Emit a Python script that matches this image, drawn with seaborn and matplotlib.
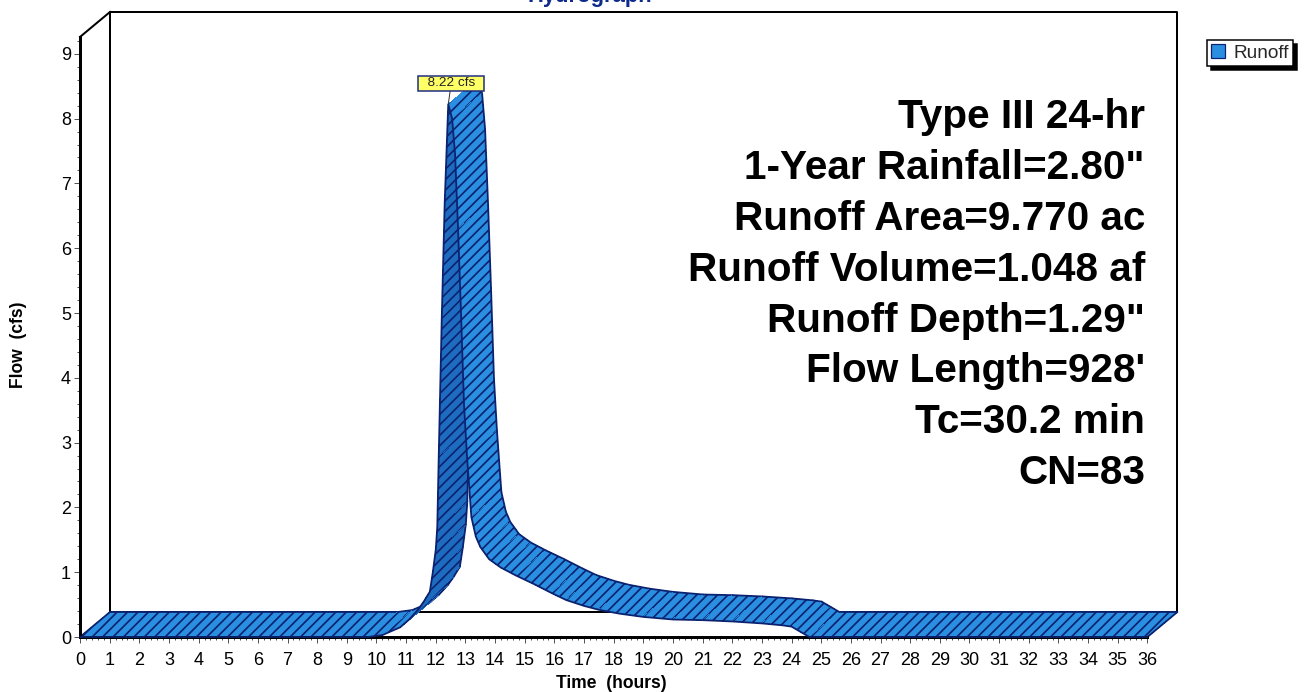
import numpy as np
import pandas as pd
import matplotlib
matplotlib.use("Agg")
import matplotlib.pyplot as plt
import seaborn as sns
from matplotlib.patches import Patch
from matplotlib.ticker import MultipleLocator

# ---------------- data ----------------
time_hr = [0.0, 9.7, 10.2, 10.8, 11.1, 11.4, 11.6, 11.8, 11.9, 12.0, 12.05, 12.1,
           12.2, 12.3, 12.42, 12.55, 12.65, 12.75, 12.85, 12.95, 13.05, 13.2,
           13.35, 13.5, 13.8, 14.2, 14.7, 15.3, 15.9, 16.4, 17.0, 17.5, 18.2,
           19.0, 20.0, 21.0, 22.0, 23.0, 23.7, 24.0, 24.3, 24.6, 36.0]
flow_cfs = [0.0, 0.0, 0.03, 0.15, 0.27, 0.42, 0.55, 0.70, 1.00, 1.35, 1.70, 2.80,
            4.90, 6.70, 8.22, 8.00, 7.45, 6.30, 5.00, 3.60, 2.80, 1.85,
            1.55, 1.39, 1.20, 1.07, 0.95, 0.82, 0.68, 0.57, 0.48, 0.42, 0.36,
            0.31, 0.27, 0.26, 0.24, 0.21, 0.18, 0.16, 0.08, 0.0, 0.0]
x_ticks = list(range(0, 37))
y_ticks = list(range(0, 10))
series_name = "Runoff"
title_text = "Hydrograph"
x_label = "Time  (hours)"
y_label = "Flow  (cfs)"
info_lines = ["Type III 24-hr",
              '1-Year Rainfall=2.80"',
              "Runoff Area=9.770 ac",
              "Runoff Volume=1.048 af",
              'Runoff Depth=1.29"',
              "Flow Length=928'",
              "Tc=30.2 min",
              "CN=83"]

# ---------------- style ----------------
DPI = 125
W, H = 1304, 692


def pt(px):
    return px * 72.0 / DPI


LIGHT = "#2a8fe0"
DARK = "#1d6cc0"
EDGE = "#0c2270"

sns.set_theme(style="white")
plt.rcParams["font.family"] = ["Liberation Sans", "DejaVu Sans"]
plt.rcParams["hatch.linewidth"] = pt(1.7)

fig = plt.figure(figsize=(W / DPI, H / DPI), dpi=DPI)
fig.patch.set_facecolor("white")

X0, Y0 = 80, 637          # pixel position of the origin (from top-left)
PXH, PXQ = 29.65, 64.8    # pixels per hour, pixels per cfs
XMAX, YMAX = 36, 9.26
ax = fig.add_axes([X0 / W, (H - Y0) / H, XMAX * PXH / W, YMAX * PXQ / H])
ax.set_xlim(0, XMAX)
ax.set_ylim(0, YMAX)
ax.set_facecolor("white")
ax.grid(False)

DX, DY = 30 / PXH, 25 / PXQ   # depth offset of the pseudo-3D back plane

# back wall outline
wall = dict(color="black", lw=pt(2), clip_on=False, zorder=1, solid_capstyle="projecting")
ax.plot([DX, DX, XMAX + DX, XMAX + DX, DX],
        [DY, YMAX + DY, YMAX + DY, DY, DY], **wall)
ax.plot([0, DX], [YMAX, YMAX + DY], **wall)

# ribbon
t = np.asarray(time_hr)
q = np.asarray(flow_cfs)
for i in range(len(t) - 1):
    xs = [t[i], t[i + 1], t[i + 1] + DX, t[i] + DX]
    ys = [q[i], q[i + 1], q[i + 1] + DY, q[i] + DY]
    back_face = (t[i + 1] - t[i]) * DY - (q[i + 1] - q[i]) * DX < 0
    ax.fill(xs, ys, facecolor=DARK if back_face else LIGHT, edgecolor=EDGE,
            linewidth=0, hatch="////", antialiased=False, clip_on=False, zorder=3)
    ax.plot([t[i] + DX, t[i + 1] + DX], [q[i] + DY, q[i + 1] + DY], color=EDGE,
            lw=pt(1.8), clip_on=False, zorder=3, solid_capstyle="round")
ax.plot([t[0], t[0] + DX], [q[0], q[0] + DY], color=EDGE, lw=pt(1.8), clip_on=False, zorder=3)
ax.plot([t[-1], t[-1] + DX], [q[-1], q[-1] + DY], color=EDGE, lw=pt(1.8), clip_on=False, zorder=3)

df = pd.DataFrame({"time": time_hr, "flow": flow_cfs})
sns.lineplot(data=df, x="time", y="flow", ax=ax, color=EDGE, linewidth=pt(1.8),
             sort=False, estimator=None, legend=False, zorder=5, clip_on=False)

# axes / ticks
for s in ["top", "right"]:
    ax.spines[s].set_visible(False)
for s in ["left", "bottom"]:
    ax.spines[s].set_visible(True)
    ax.spines[s].set_color("black")
    ax.spines[s].set_linewidth(pt(3))
    ax.spines[s].set_zorder(4)

ax.set_xticks(x_ticks)
ax.set_xticklabels([str(v) for v in x_ticks])
ax.set_yticks(y_ticks)
ax.set_yticklabels([str(v) for v in y_ticks])
ax.xaxis.set_minor_locator(MultipleLocator(0.2))
ax.yaxis.set_minor_locator(MultipleLocator(0.2))
ax.tick_params(which="both", direction="out", color="#555555", width=pt(1),
               bottom=True, left=True, top=False, right=False)
ax.tick_params(which="major", length=pt(6), labelsize=pt(18), labelcolor="black")
ax.tick_params(which="minor", length=pt(3))
ax.tick_params(axis="x", which="major", pad=pt(9))
ax.tick_params(axis="y", which="major", pad=pt(3))

ax.set_xlabel(x_label, fontsize=pt(17.5), fontweight="bold", color="black")
ax.xaxis.set_label_coords((611 - X0) / (XMAX * PXH), (Y0 - 675) / (YMAX * PXQ))
ax.set_ylabel(y_label, fontsize=pt(17.5), fontweight="bold", color="black")
ax.yaxis.set_label_coords((27 - X0) / (XMAX * PXH), (Y0 - 345) / (YMAX * PXQ))

# peak label
ipk = int(np.argmax(q))
ax.annotate(f"  {q[ipk]:.2f} cfs  ", xy=(t[ipk], q[ipk]), xytext=(pt(3), pt(21)),
            textcoords="offset points", ha="center", va="center",
            fontsize=pt(13.5), color="#222222", zorder=8,
            bbox=dict(boxstyle="square,pad=0.12", fc="#ffff66", ec="#1a2a80", lw=pt(1.5)),
            arrowprops=dict(arrowstyle="-", color="#333333", lw=pt(1), shrinkA=0, shrinkB=0),
            annotation_clip=False)

# info block
for k, line in enumerate(info_lines):
    fig.text(1145 / W, 1 - (128 + 50.9 * k) / H, line, ha="right", va="baseline",
             fontsize=pt(40.5), fontweight="bold", color="black")

# title (cut at top in reference)
fig.text(590 / W, 1 - 2.0 / H, title_text, ha="center", va="baseline",
         fontsize=pt(22), fontweight="bold", color="#0d2a8c")

# legend
handle = Patch(facecolor=LIGHT, edgecolor=EDGE, linewidth=pt(1.2))
leg = fig.legend([handle], [series_name], loc="upper left",
                 bbox_to_anchor=(1207 / W, 1 - 40 / H), borderaxespad=0,
                 borderpad=0.22, handlelength=0.75, handleheight=0.75,
                 handletextpad=0.4, frameon=True, fancybox=False,
                 edgecolor="black", framealpha=1,
                 shadow={"ox": pt(4), "oy": -pt(4), "facecolor": "black",
                         "edgecolor": "black", "alpha": 1},
                 prop={"family": "Liberation Sans", "size": pt(19)})
leg.get_frame().set_linewidth(pt(1.5))

fig.savefig("out.png", dpi=DPI, facecolor="white")
